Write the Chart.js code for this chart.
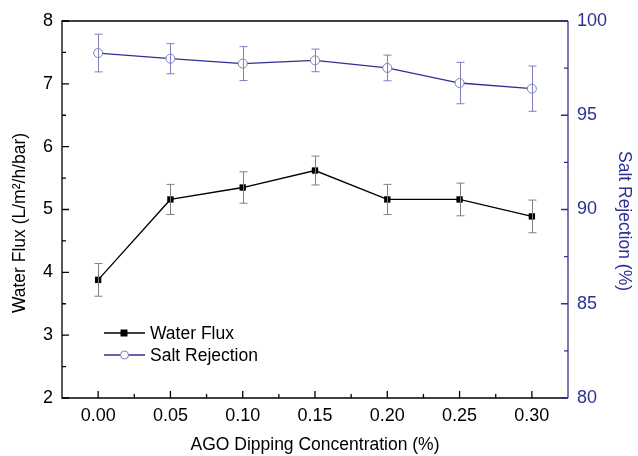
<!DOCTYPE html>
<html>
<head>
<meta charset="utf-8">
<script src="https://cdn.jsdelivr.net/npm/chart.js@4"></script>
<style>
  html, body { margin: 0; padding: 0; background: #fff; }
  #wrap { width: 638px; height: 456px; }
</style>
</head>
<body>
<div id="wrap"><canvas id="fluxChart" width="638" height="456"></canvas></div>
<script>
// values
const concentrations = [0.00, 0.05, 0.10, 0.15, 0.20, 0.25, 0.30];
const waterFlux = [3.88, 5.16, 5.35, 5.62, 5.16, 5.16, 4.89];
const waterFluxErr = [0.26, 0.24, 0.25, 0.23, 0.24, 0.26, 0.26];
const saltRejection = [98.3, 98.0, 97.74, 97.91, 97.51, 96.71, 96.41];
const saltRejectionErr = [1.0, 0.8, 0.9, 0.6, 0.68, 1.1, 1.2];

const xTicks = [0.00, 0.05, 0.10, 0.15, 0.20, 0.25, 0.30];
const fluxTicks = [2, 3, 4, 5, 6, 7, 8];
const rejectionTicks = [80, 85, 90, 95, 100];

const BLUE = "#2e3192";
const FONT = "'Liberation Sans', Arial, sans-serif";

// error bars, inward ticks, frame, side titles and the inset legend
const decor = {
  id: "decor",
  afterDatasetsDraw(chart) {
    const ctx = chart.ctx;
    const xs = chart.scales.x, yl = chart.scales.y, yr = chart.scales.y2;

    const bars = [
      { vals: waterFlux, errs: waterFluxErr, scale: yl, color: "#808080" },
      { vals: saltRejection, errs: saltRejectionErr, scale: yr, color: "#7d80bf" }
    ];
    ctx.save();
    ctx.lineWidth = 1;
    bars.forEach(b => {
      ctx.strokeStyle = b.color;
      concentrations.forEach((c, i) => {
        const px = Math.round(xs.getPixelForValue(c)) + 0.5;
        const top = b.scale.getPixelForValue(b.vals[i] + b.errs[i]);
        const bot = b.scale.getPixelForValue(b.vals[i] - b.errs[i]);
        ctx.beginPath();
        ctx.moveTo(px, top); ctx.lineTo(px, bot);
        ctx.moveTo(px - 4, top); ctx.lineTo(px + 4, top);
        ctx.moveTo(px - 4, bot); ctx.lineTo(px + 4, bot);
        ctx.stroke();
      });
    });
    ctx.restore();
  },
  afterDraw(chart) {
    const ctx = chart.ctx;
    const xs = chart.scales.x, yl = chart.scales.y, yr = chart.scales.y2;
    const a = chart.chartArea;
    ctx.save();
    ctx.lineWidth = 1.3;

    // frame
    ctx.strokeStyle = "#000";
    ctx.beginPath();
    ctx.moveTo(a.right, a.top); ctx.lineTo(a.left, a.top);
    ctx.lineTo(a.left, a.bottom); ctx.lineTo(a.right, a.bottom);
    ctx.stroke();
    ctx.strokeStyle = BLUE;
    ctx.beginPath();
    ctx.moveTo(a.right, a.top); ctx.lineTo(a.right, a.bottom);
    ctx.stroke();

    // bottom ticks
    ctx.strokeStyle = "#000";
    ctx.beginPath();
    xTicks.forEach((v, i) => {
      const p = xs.getPixelForValue(v);
      ctx.moveTo(p, a.bottom); ctx.lineTo(p, a.bottom - 7);
      if (i < xTicks.length - 1) {
        const m = xs.getPixelForValue(v + 0.025);
        ctx.moveTo(m, a.bottom); ctx.lineTo(m, a.bottom - 4);
      }
    });
    // left ticks
    fluxTicks.forEach((v, i) => {
      const p = yl.getPixelForValue(v);
      ctx.moveTo(a.left, p); ctx.lineTo(a.left + 7, p);
      if (i < fluxTicks.length - 1) {
        const m = yl.getPixelForValue(v + 0.5);
        ctx.moveTo(a.left, m); ctx.lineTo(a.left + 4, m);
      }
    });
    ctx.stroke();
    // right ticks
    ctx.strokeStyle = BLUE;
    ctx.beginPath();
    rejectionTicks.forEach((v, i) => {
      const p = yr.getPixelForValue(v);
      ctx.moveTo(a.right, p); ctx.lineTo(a.right - 7, p);
      if (i < rejectionTicks.length - 1) {
        const m = yr.getPixelForValue(v + 2.5);
        ctx.moveTo(a.right, m); ctx.lineTo(a.right - 4, m);
      }
    });
    ctx.stroke();

    // side titles (sit a little below the axis middle, as in the figure)
    ctx.font = "17.5px " + FONT;
    ctx.textAlign = "center";
    ctx.textBaseline = "middle";
    ctx.save();
    ctx.translate(20, 223);
    ctx.rotate(-Math.PI / 2);
    ctx.fillStyle = "#000";
    ctx.fillText("Water Flux (L/m\u00b2/h/bar)", 0, 0);
    ctx.restore();
    ctx.save();
    ctx.translate(624, 221);
    ctx.rotate(Math.PI / 2);
    ctx.fillStyle = BLUE;
    ctx.fillText("Salt Rejection (%)", 0, 0);
    ctx.restore();

    // legend
    const rows = [
      { label: chart.data.datasets[0].label, color: "#000", y: 333, square: true },
      { label: chart.data.datasets[1].label, color: BLUE, y: 355, square: false }
    ];
    ctx.textAlign = "left";
    rows.forEach(r => {
      ctx.strokeStyle = r.color;
      ctx.lineWidth = 1.3;
      ctx.beginPath();
      ctx.moveTo(104, r.y); ctx.lineTo(145, r.y);
      ctx.stroke();
      if (r.square) {
        ctx.fillStyle = "#000";
        ctx.fillRect(120.5, r.y - 3.5, 7, 7);
      } else {
        ctx.fillStyle = "#fff";
        ctx.strokeStyle = "#7d80bf";
        ctx.lineWidth = 1;
        ctx.beginPath();
        ctx.arc(124.5, r.y, 4, 0, Math.PI * 2);
        ctx.fill(); ctx.stroke();
      }
      ctx.fillStyle = "#000";
      ctx.fillText(r.label, 150, r.y + 1);
    });
    ctx.restore();
  }
};

new Chart(document.getElementById("fluxChart"), {
  type: "line",
  data: {
    datasets: [
      {
        label: "Water Flux",
        data: concentrations.map((c, i) => ({ x: c, y: waterFlux[i] })),
        yAxisID: "y",
        borderColor: "#000",
        borderWidth: 1.3,
        pointStyle: "rect",
        pointRadius: 4.5,
        pointBackgroundColor: "#000",
        pointBorderColor: "#000",
        pointBorderWidth: 0
      },
      {
        label: "Salt Rejection",
        data: concentrations.map((c, i) => ({ x: c, y: saltRejection[i] })),
        yAxisID: "y2",
        borderColor: BLUE,
        borderWidth: 1.3,
        pointStyle: "circle",
        pointRadius: 4.5,
        pointBackgroundColor: "#fff",
        pointBorderColor: "#7d80bf",
        pointBorderWidth: 1
      }
    ]
  },
  options: {
    responsive: false,
    animation: false,
    layout: { padding: { top: 21, left: 0, right: 0, bottom: 0 } },
    plugins: { legend: { display: false }, tooltip: { enabled: false } },
    scales: {
      x: {
        type: "linear",
        min: -0.025,
        max: 0.325,
        afterBuildTicks: s => { s.ticks = xTicks.map(v => ({ value: v })); },
        afterFit: s => { s.height = 58; },
        grid: { display: false, drawTicks: false },
        border: { display: false },
        ticks: {
          color: "#000",
          padding: 7,
          font: { family: FONT, size: 18 },
          callback: v => v.toFixed(2)
        },
        title: {
          display: true,
          text: "AGO Dipping Concentration (%)",
          color: "#000",
          font: { family: FONT, size: 17.5 },
          padding: { top: 0, bottom: 0 }
        }
      },
      y: {
        position: "left",
        min: 2,
        max: 8,
        afterBuildTicks: s => { s.ticks = fluxTicks.map(v => ({ value: v })); },
        afterFit: s => { s.width = 62; },
        grid: { display: false, drawTicks: false },
        border: { display: false },
        ticks: { color: "#000", padding: 9, font: { family: FONT, size: 18 } }
      },
      y2: {
        position: "right",
        min: 80,
        max: 100,
        afterBuildTicks: s => { s.ticks = rejectionTicks.map(v => ({ value: v })); },
        afterFit: s => { s.width = 70; },
        grid: { display: false, drawTicks: false },
        border: { display: false },
        ticks: { color: BLUE, padding: 9, font: { family: FONT, size: 18 } }
      }
    }
  },
  plugins: [decor]
});
</script>
</body>
</html>
